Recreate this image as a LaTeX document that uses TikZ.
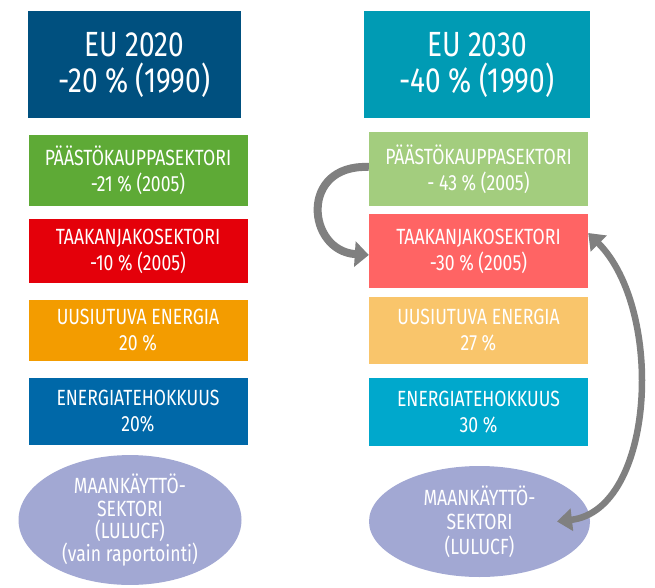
\documentclass[tikz,border=0pt]{standalone}
\usepackage{xcolor}
\usepackage{fontspec}
\setmainfont{Fira Sans}[FakeStretch=0.8]
\usepackage{tikz}
\usetikzlibrary{positioning,arrows.meta,shapes.geometric}

\definecolor{goalA}{RGB}{0,80,127}
\definecolor{goalB}{RGB}{0,155,180}
\definecolor{etsA}{RGB}{94,170,54}
\definecolor{etsB}{RGB}{163,205,126}
\definecolor{esrA}{RGB}{228,0,10}
\definecolor{esrB}{RGB}{255,100,100}
\definecolor{resA}{RGB}{243,156,0}
\definecolor{resB}{RGB}{249,197,107}
\definecolor{effA}{RGB}{0,104,168}
\definecolor{effB}{RGB}{0,168,204}
\definecolor{landuse}{RGB}{162,168,211}
\definecolor{flow}{RGB}{128,128,128}

\begin{document}
\begin{tikzpicture}[x=1pt, y=-1pt,
    goal/.style={rectangle, inner sep=0pt, text=white, align=center, minimum height=107pt, font=\fontsize{35}{36}\selectfont},
    sector/.style={rectangle, inner sep=0pt, text=white, align=center, minimum width=219pt, font=\fontsize{22}{26}\selectfont},
    landblob/.style={ellipse, inner sep=0pt, fill=landuse, text=white, align=center, font=\fontsize{22}{22.5}\selectfont}]
\useasboundingbox (0,0) rectangle (655,588);

\node[goal, fill=goalA, minimum width=213pt] (goal_2020) at (134.5,64.5) {EU 2020\\-20 \% (1990)};
\node[goal, fill=goalB, minimum width=226pt] (goal_2030) at (477,64.5) {EU 2030\\-40 \% (1990)};

\node[sector, fill=etsA, minimum height=71pt] (left_0) at (138,170.5) {PÄÄSTÖKAUPPASEKTORI\\-21 \% (2005)};
\node[sector, fill=esrA, minimum height=64pt] (left_1) at (138,251) {TAAKANJAKOSEKTORI\\-10 \% (2005)};
\node[sector, fill=resA, minimum height=61pt] (left_2) at (138,330.5) {UUSIUTUVA ENERGIA\\20 \%};
\node[sector, fill=effA, minimum height=67pt] (left_3) at (138,411.5) {ENERGIATEHOKKUUS\\20\%};
\node[landblob, minimum width=223pt, minimum height=115pt] (lulucf_left) at (130,520) {MAANKÄYTTÖ-\\SEKTORI\\(LULUCF)\\(vain raportointi)};

\node[sector, fill=etsB, minimum height=74pt] (right_0) at (478.5,169) {PÄÄSTÖKAUPPASEKTORI\\- 43 \% (2005)};
\node[sector, fill=esrB, minimum height=74pt] (right_1) at (478.5,251) {TAAKANJAKOSEKTORI\\-30 \% (2005)};
\node[sector, fill=resB, minimum height=67pt] (right_2) at (478.5,330.5) {UUSIUTUVA ENERGIA\\27 \%};
\node[sector, fill=effB, minimum height=68pt] (right_3) at (478.5,412) {ENERGIATEHOKKUUS\\30 \%};
\node[landblob, minimum width=221pt, minimum height=111pt, font=\fontsize{22}{24.5}\selectfont] (lulucf_right) at (479.5,521.5) {MAANKÄYTTÖ-\\SEKTORI\\(LULUCF)};

\draw[flow, line width=8pt, -{Triangle[width=25pt,length=14pt]}] ([yshift=2pt]right_0.west)
    .. controls +(-70,-3) and +(-62,-4) .. ([yshift=-4pt]right_1.west);
\draw[flow, line width=6.5pt, {Triangle[width=22pt,length=15pt]}-{Triangle[width=22pt,length=15pt]}] ([yshift=18pt]right_1.east)
    .. controls (665,310) and (655,510) .. (lulucf_right.east -| 557,0);

\end{tikzpicture}
\end{document}
